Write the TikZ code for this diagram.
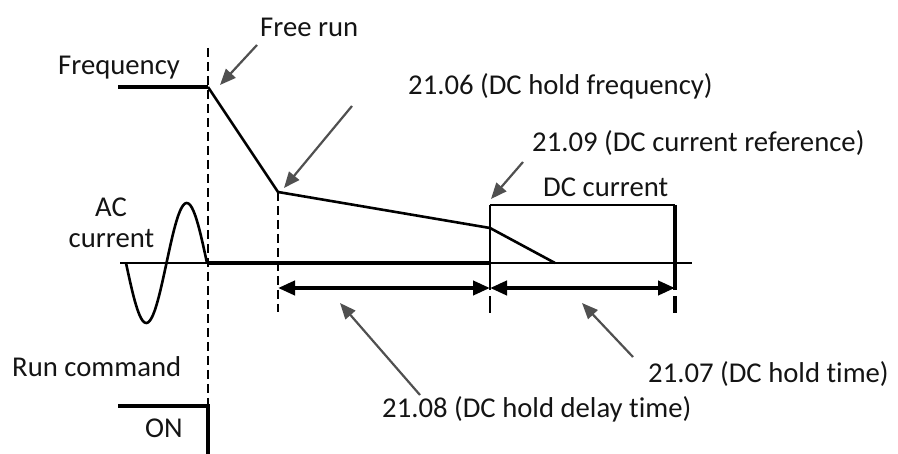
\documentclass[tikz,border=0pt]{standalone}
\usepackage{fontspec}
\setmainfont[Ligatures=NoCommon]{Carlito}
\usepackage{tikz}
\usetikzlibrary{arrows.meta, positioning, calc}
\definecolor{mydark}{RGB}{20,20,20}
\definecolor{mygray}{RGB}{80,80,80}
\newcommand{\lblfont}{\fontsize{28.7}{34}\selectfont}
\tikzset{
  lbl/.style={font=\lblfont, text=mydark, inner sep=0pt, anchor=base west},
  pointer/.style={-{Triangle[length=16pt,width=13pt]}, line width=2.2pt, color=mygray},
  span/.style={{Triangle[length=17pt,width=14pt]}-{Triangle[length=17pt,width=14pt]}, line width=4pt},
  guide/.style={line width=1.4pt, dash pattern=on 9pt off 5pt},
  signal/.style={line width=4.5pt},
  trace/.style={line width=2.6pt, line join=round},
  axisline/.style={line width=1.5pt}
}

\begin{document}
\begin{tikzpicture}[x=1pt, y=-1pt]
  \useasboundingbox (0,0) rectangle (898,454);

  % Key points
  \coordinate (f0) at (118,87);
  \coordinate (stop) at (208,87);
  \coordinate (hold) at (278,192);
  \coordinate (dcon) at (490,228);
  \coordinate (fend) at (555,263);
  \coordinate (ax0) at (120,263);
  \coordinate (ax1) at (692,263);
  \coordinate (z0) at (208,263);
  \coordinate (z1) at (490,263);
  \coordinate (boxtl) at (490,205);
  \coordinate (boxtr) at (675,205);
  \coordinate (boxbr) at (675,263);

  % Labels
  \node[lbl] (free) at (260,37) {Free run};
  \node[lbl] (freq) at (58,75) {Frequency};
  \node[lbl] (p2106) at (408,95) {21.06 (DC hold frequency)};
  \node[lbl] (p2109) at (532,152) {21.09 (DC current reference)};
  \node[lbl] (dccur) at (543,197) {DC current};
  \node[lbl, anchor=base] (ac) at (111,217) {AC};
  \node[lbl, anchor=base] (accur) at (111.5,248) {current};
  \node[lbl] (runcmd) at (12,377) {Run command};
  \node[lbl] (on) at (145,438) {ON};
  \node[lbl] (p2107) at (648,383) {21.07 (DC hold time)};
  \node[lbl] (p2108) at (382,418) {21.08 (DC hold delay time)};

  % Guides
  \draw[guide] (208,48) -- (208,404);
  \draw[guide] (hold) -- (278,312);
  \draw[line width=1.6pt, dash pattern=on 27pt off 6pt] (z1) -- (490,313);
  \draw[line width=4.5pt, dash pattern=on 27pt off 6pt] (boxbr) -- (675,313);

  % Frequency
  \draw[signal] (f0) -- (stop);
  \draw[trace] (stop) -- (hold) -- (dcon) -- (fend);

  % Current
  \draw[axisline] (ax0) -- (ax1);
  \draw[signal] (z0) -- (z1);
  \draw[trace] plot[domain=0:360, samples=72, smooth] ({126+\x/180*40.5}, {263+60*sin(\x)});
  \draw[line width=2pt] (z1) -- (boxtl);
  \draw[trace] (boxtl) -- (boxtr);
  \draw[signal] (boxtr) -- (boxbr);

  % Run command
  \draw[signal] (118,406) -- (208,406) -- (208,454);

  % Time spans
  \draw[span] (278,288) -- (490,288);
  \draw[span] (490,288) -- (675,288);

  % Pointers
  \draw[pointer] (257,45) -- (220,85);
  \draw[pointer] (352,106) -- (284,188);
  \draw[pointer] (523,162) -- (491,199);
  \draw[pointer] (420,395) -- (340,303);
  \draw[pointer] (633,357) -- (582,303);
\end{tikzpicture}
\end{document}
